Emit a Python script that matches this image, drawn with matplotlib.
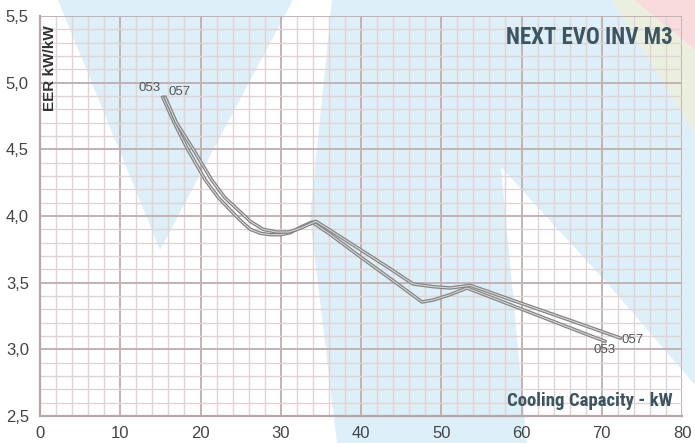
import matplotlib
matplotlib.use("Agg")
import matplotlib.pyplot as plt
from matplotlib.patches import Polygon
from matplotlib.ticker import MultipleLocator, FuncFormatter
import matplotlib.patheffects as pe

# ---- data ----
x_057 = [15.6, 17.0, 19.1, 21.4, 23.0, 24.7, 26.2, 27.8, 29.5, 31.0, 32.5, 34.4,
         36.1, 40.0, 43.5, 46.5, 49.0, 51.1, 53.6, 56.0, 59.4, 65.0, 72.3]
y_057 = [4.89, 4.70, 4.50, 4.27, 4.14, 4.045, 3.96, 3.90, 3.88, 3.88, 3.91, 3.96,
         3.895, 3.745, 3.61, 3.49, 3.47, 3.46, 3.48, 3.43, 3.357, 3.24, 3.085]
x_053 = [15.3, 16.8, 18.4, 20.6, 22.2, 23.7, 25.0, 26.2, 27.5, 28.7, 30.0, 31.2,
         32.6, 33.9, 36.1, 40.0, 44.0, 47.6, 49.0, 51.1, 53.2, 56.0, 59.4, 65.0, 70.4]
y_053 = [4.89, 4.69, 4.50, 4.27, 4.14, 4.045, 3.965, 3.90, 3.87, 3.86, 3.86, 3.875,
         3.92, 3.955, 3.865, 3.69, 3.515, 3.355, 3.37, 3.41, 3.46, 3.395, 3.316, 3.185, 3.06]
x_ticks = [0, 10, 20, 30, 40, 50, 60, 70, 80]
y_ticks = [2.5, 3.0, 3.5, 4.0, 4.5, 5.0, 5.5]
title = "NEXT EVO INV M3"
xlabel = "Cooling Capacity - kW"
ylabel = "EER kW/kW"

W, H = 695, 443
fig = plt.figure(figsize=(W / 100, H / 100), dpi=100)
fig.patch.set_facecolor("white")

def fp(pts):
    return [(px / W, 1 - py / H) for px, py in pts]

# decorative background shapes (figure pixel coords)
blue = "#cfe9f7"
shapes = [
    ([(58, 0), (293, 0), (160, 250)], blue),
    ([(332, 0), (612, 0), (695, 133), (695, 385), (607, 283), (501, 167),
      (527, 443), (337, 443), (310, 217)], blue),
    ([(612, 0), (634, 0), (695, 50), (695, 133)], "#e2ebcf"),
    ([(634, 0), (695, 0), (695, 50)], "#f7cdd0"),
]
for pts, col in shapes:
    fig.add_artist(Polygon(fp(pts), closed=True, transform=fig.transFigure,
                           facecolor=col, edgecolor="none", alpha=0.7, zorder=0))

ax = fig.add_axes([40 / W, 1 - 416 / H, 642 / W, 400 / H])
ax.set_facecolor("none")
ax.set_xlim(0, 80)
ax.set_ylim(2.5, 5.5)
ax.xaxis.set_minor_locator(MultipleLocator(2))
ax.yaxis.set_minor_locator(MultipleLocator(0.1))
ax.set_xticks(x_ticks)
ax.set_yticks(y_ticks)
ax.yaxis.set_major_formatter(FuncFormatter(lambda v, p: f"{v:.1f}".replace(".", ",")))
ax.grid(which="major", color="#c2b3b3", linewidth=1.4)
ax.grid(which="minor", color="#e0d5d5", linewidth=1.0)
ax.set_axisbelow(True)
for s in ["top", "right"]:
    ax.spines[s].set_visible(False)
for s in ["left", "bottom"]:
    ax.spines[s].set_color("#b8a6a6")
    ax.spines[s].set_linewidth(1.6)
ax.tick_params(which="both", length=0)
ax.tick_params(axis="both", labelsize=12, colors="#444444", labelcolor="#444444")
ax.tick_params(axis="x", pad=7)
ax.tick_params(axis="y", pad=8)
for lab in ax.get_xticklabels() + ax.get_yticklabels():
    lab.set_fontfamily(["Liberation Sans", "DejaVu Sans"])

effects = [pe.Stroke(linewidth=2.5, foreground="#828282", joinstyle="round"),
           pe.Stroke(linewidth=0.8, foreground="#d6d6d6", joinstyle="round")]
for xs, ys in [(x_053, y_053), (x_057, y_057)]:
    ax.plot(xs, ys, color="#d6d6d6", linewidth=0.8, path_effects=effects, zorder=3)

lbl = dict(fontsize=9.5, color="#555555", family=["Liberation Sans", "DejaVu Sans"], zorder=4)
ax.text(x_053[0] - 1.6, y_053[0] + 0.07, "053", ha="center", va="center", **lbl)
ax.text(x_057[0] + 1.8, y_057[0] + 0.04, "057", ha="center", va="center", **lbl)
ax.text(x_057[-1] + 1.6, y_057[-1] - 0.015, "057", ha="center", va="center", **lbl)
ax.text(x_053[-1], y_053[-1] - 0.065, "053", ha="center", va="center", **lbl)

cond = ["Roboto Condensed", "Open Sans Condensed", "DejaVu Sans"]
ax.text(0.985, 0.945, title, transform=ax.transAxes, ha="right", va="center",
        fontsize=16.5, fontweight="bold", fontstretch="condensed", color="#3d5560",
        family=cond)
ax.text(0.985, 0.037, xlabel, transform=ax.transAxes, ha="right", va="center",
        fontsize=13.5, fontweight="bold", fontstretch="condensed", color="#3d5560",
        family=cond)
ax.text(0.016, 0.87, ylabel, transform=ax.transAxes, ha="center", va="center",
        rotation=90, fontsize=11, fontweight="bold", color="#333333",
        family=["Liberation Sans", "DejaVu Sans"])

fig.savefig("out.png", dpi=100)
